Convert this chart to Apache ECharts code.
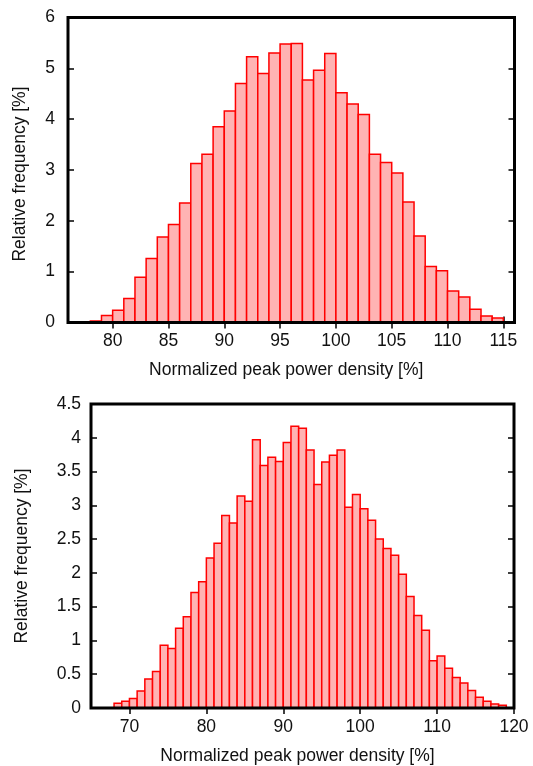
<!DOCTYPE html>
<html>
<head>
<meta charset="utf-8">
<script src="https://cdn.jsdelivr.net/npm/echarts@6/dist/echarts.min.js"></script>
<style>
html,body{margin:0;padding:0;background:#fff;}
#chart{width:533px;height:766px;}
</style>
</head>
<body>
<div id="chart"></div>
<script>
// ---- Data ----
const binWidth = 1;
const topBinStarts = [78,79,80,81,82,83,84,85,86,87,88,89,90,91,92,93,94,95,96,97,98,99,100,101,102,103,104,105,106,107,108,109,110,111,112,113,114];
const topFreq = [0.03,0.14,0.24,0.47,0.89,1.26,1.68,1.93,2.35,3.13,3.31,3.85,4.16,4.70,5.23,4.90,5.30,5.48,5.49,4.77,4.96,5.29,4.52,4.30,4.09,3.31,3.15,2.94,2.37,1.70,1.10,1.02,0.62,0.50,0.26,0.13,0.09];
const bottomBinStarts = [68,69,70,71,72,73,74,75,76,77,78,79,80,81,82,83,84,85,86,87,88,89,90,91,92,93,94,95,96,97,98,99,100,101,102,103,104,105,106,107,108,109,110,111,112,113,114,115,116,117,118];
const bottomFreq = [0.07,0.10,0.14,0.25,0.43,0.54,0.93,0.88,1.18,1.35,1.71,1.87,2.22,2.44,2.85,2.74,3.14,3.06,3.97,3.59,3.71,3.65,3.93,4.17,4.14,3.82,3.31,3.64,3.74,3.82,2.97,3.16,2.95,2.78,2.50,2.36,2.26,1.98,1.65,1.37,1.15,0.70,0.77,0.59,0.45,0.37,0.26,0.16,0.10,0.06,0.04];
const topXTicks = [80,85,90,95,100,105,110,115];
const bottomXTicks = [70,80,90,100,110,120];
const xTitle = 'Normalized peak power density [%]';
const yTitle = 'Relative frequency [%]';

// ---- Chart ----
const FONT = '"Liberation Sans", Arial, sans-serif';
const FS = 17.5;
const chart = echarts.init(document.getElementById('chart'), null, {renderer:'canvas'});

function renderBar(params, api){
  const x0 = api.value(0), h = api.value(1);
  const p0 = api.coord([x0, 0]);
  const p1 = api.coord([x0 + binWidth, h]);
  return {
    type:'rect',
    shape:{x:p0[0], y:p1[1], width:p1[0]-p0[0], height:p0[1]-p1[1]},
    style:{fill:'#ffb3b3', stroke:'#ff0000', lineWidth:1.5}
  };
}

const tick = {show:true, inside:true, length:6, lineStyle:{color:'#000', width:1.5}};
const lbl = {color:'#111', fontSize:FS, fontFamily:FONT};

function xAxes(grid, min, max, ticks){
  return [
    {type:'value', gridIndex:grid, min:min, max:max, position:'bottom',
     splitLine:{show:false}, axisLine:{show:false},
     axisTick:Object.assign({customValues:ticks}, tick),
     axisLabel:Object.assign({customValues:ticks, margin:10}, lbl),
     name:xTitle, nameLocation:'middle', nameGap:39,
     nameTextStyle:{color:'#111', fontSize:FS, fontFamily:FONT, padding:[0,10,0,0]}},
    {type:'value', gridIndex:grid, min:min, max:max, position:'top',
     splitLine:{show:false}, axisLine:{show:false},
     axisTick:Object.assign({customValues:ticks}, tick),
     axisLabel:{show:false}}
  ];
}
function yAxes(grid, max, interval, margin, nameGap, namePad){
  return [
    {type:'value', gridIndex:grid, min:0, max:max, interval:interval, position:'left',
     splitLine:{show:false}, axisLine:{show:false}, axisTick:tick,
     axisLabel:Object.assign({margin:margin}, lbl),
     name:yTitle, nameLocation:'middle', nameGap:nameGap, nameRotate:90,
     nameTextStyle:{color:'#111', fontSize:FS, fontFamily:FONT, padding:namePad}},
    {type:'value', gridIndex:grid, min:0, max:max, interval:interval, position:'right',
     splitLine:{show:false}, axisLine:{show:false}, axisTick:tick,
     axisLabel:{show:false}}
  ];
}

chart.setOption({
  animation:false,
  backgroundColor:'#fff',
  grid:[
    {left:68, top:17.5, width:446.5, height:305, show:true, borderColor:'#000', borderWidth:3, backgroundColor:'transparent', z:10},
    {left:91, top:404, width:423, height:306, show:true, borderColor:'#000', borderWidth:3, backgroundColor:'transparent', z:10}
  ],
  xAxis:[].concat(xAxes(0, 76, 116, topXTicks), xAxes(1, 65, 120, bottomXTicks)),
  yAxis:[].concat(yAxes(0, 6, 1, 13, 39, [0,8,0,0]), yAxes(1, 4.5, 0.5, 10, 60, 0)),
  series:[
    {type:'custom', xAxisIndex:0, yAxisIndex:0, renderItem:renderBar, z:2,
     data:topBinStarts.map((s,i)=>[s, topFreq[i]])},
    {type:'custom', xAxisIndex:2, yAxisIndex:2, renderItem:renderBar, z:2,
     data:bottomBinStarts.map((s,i)=>[s, bottomFreq[i]])}
  ]
});
</script>
</body>
</html>
